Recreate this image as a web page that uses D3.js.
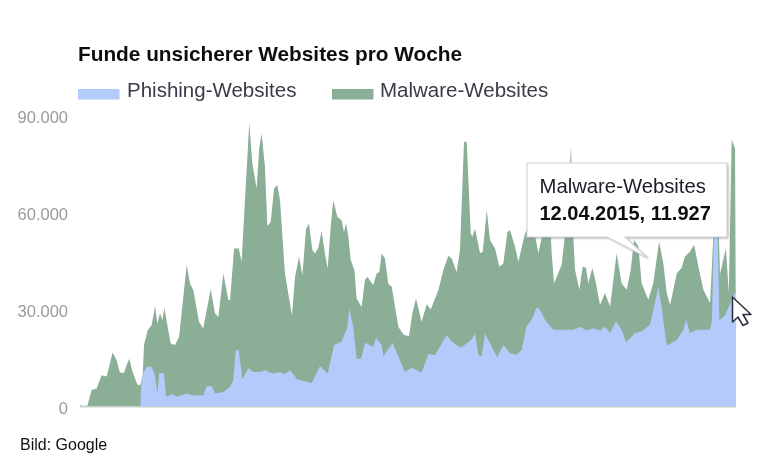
<!DOCTYPE html>
<html><head><meta charset="utf-8">
<script src="https://cdn.jsdelivr.net/npm/d3@7"></script>
<style>html,body{margin:0;padding:0;background:#fff}svg{display:block;font-family:"Liberation Sans",Arial,sans-serif}</style>
</head><body><svg id="c" width="777" height="464"></svg>
<script>
const chartTitle="Funde unsicherer Websites pro Woche";
const seriesNames=["Phishing-Websites","Malware-Websites"];
const seriesColors=["#b2cbfb","#8aae96"];
const tickValues=[0,30,60,90];
const tooltipLines=["Malware-Websites","12.04.2015, 11.927"];
const credit="Bild: Google";
// week index / value in thousands
const malwareWeeks=[0,2,4.6,7.3,10.4,13.5,16.7,20.4,22.9,25,27.5,29.2,30.8,32.9,35.8,37.5,39.2,40,42.3,44.8,46.9,48.3,50,51.5,52.7,54.8,56.7,59.4,61.9,66.7,68.8,70.8,74.4,77,81.7,84.4,86.5,89.6,92.7,93.8,96.3,99.2,101,103.1,105.8,107.7,110.4,112,113.5,115.6,117.1,119.2,121.3,123.3,125,128.1,130.2,132.5,134.4,136.9,139,141.3,143.1,145.2,146.9,149,151,153.1,154.8,156.7,158.3,160.8,163.5,165,166.3,167.7,169.2,171.5,172.9,176,178.1,179.6,183.3,185.4,187.1,188.5,190.6,192.7,194.8,199,202.5,205.6,207.7,210,213.5,216.7,219.2,224,227.1,230.2,232.3,235.4,237.5,240,241.7,244.2,245.2,246.9,250,251.7,254.2,256.3,259.4,262.1,264.6,267.1,268.8,271.9,274,278.1,281,284,286.5,288.5,291,294,294.8,296.3,301,304.2,306.9,308.3,309.4,312.1,314.2,316.3,317.7,320.2,322.5,325,328.1,331.3,335.4,338.5,341.7,344.2,346.3,349,351,355.2,358.3,361.9,364.6,366.7,368.8,373,376,378.1,381.3,383.8,386.5,389.6,393.8,395,396.5,399,400,403.7,405.5,407.3,409.4,409.8,410];
const malwareValues=[0.4,0.2,0.2,5.1,5.6,9.7,9.3,16.7,14.3,10.4,10.4,12.8,14.8,10.7,6.8,6.6,9.2,19,23.6,25.2,31,25.7,28.8,26.7,30.6,24.6,19.5,19,21.5,43.7,38,36,26.2,24.1,36.3,28.8,27.7,41.1,32.9,32.9,48.9,48.9,44.7,63.8,87.7,75.2,67.4,79.8,84.4,74.1,55.8,57.1,67.4,68.5,63.8,41.1,34.9,28.2,40.1,46.3,40.6,55,56.6,48.4,47.3,49.2,54.3,47.3,42.7,55.6,63.8,58.7,57.6,54,56.6,52.5,45.3,42.2,33.4,30.8,39.1,40.1,37.5,41.1,41.6,47.3,45.8,38,37,24.6,22.1,21.8,28.8,33.4,26.2,31.6,30,36,42.2,46.6,45.8,41.6,48.4,81.9,81.9,53.5,52.5,55,47.5,47.8,60.7,51.4,48.9,43.2,44.2,54,54.5,49.4,44.7,53.6,56,54,47.4,52,58,56,47.4,38.1,43.8,57.7,80.4,52.6,42.3,36.1,43.3,42.8,38.1,42.8,38.1,31.4,35.1,30.9,47.4,38.1,36.1,42.3,51.5,49.5,38.1,33,38.1,51,44.3,35.1,31.4,41.2,42.8,46.4,47.9,50,43.3,36.1,32,44,60,58,41,49,35,82.5,79.9,36,36];
const phishingWeeks=[37.7,38.5,41.7,44.8,46.9,48.3,49.6,52.5,53.8,56.3,58.3,60.4,63.5,66.7,70.8,77,79.2,82.3,84.4,89.6,93.8,95.8,97.3,99.2,101.5,105.2,108.3,112.5,115.6,120.8,125,128.1,131.3,135.8,139.6,144.8,150,154.8,158.8,163.5,167.1,168.3,170.8,172.9,175.6,178.3,183.3,185,188.5,189.6,195.4,199,203.1,207.3,213.5,217.7,221.9,229.2,232.3,238.1,244.8,246.9,249,251,253.1,257.3,260.8,264.6,268.8,273,276,279,282.3,285.4,287.5,290.6,295.8,302,308.3,312.5,316.7,320.8,325,328.1,331.3,335,338.5,341.3,346.9,351,356.3,358.8,361.5,363.5,365.6,366.7,373,377.1,378.8,381.3,385.4,393.8,395,396.3,398.3,399.6,403,407.3,410];
const phishingValues=[0,9.2,12.3,12.3,9.7,4,10.4,10.2,3,3.5,3.8,3,3.5,4,3.4,3.5,6.3,6.3,4,4.5,6.1,8.1,17.4,17.4,8.4,11.8,10.7,10.7,11.2,10.2,10.7,10,11.2,8.4,7.9,7.3,12.5,10.2,19,20,24.6,30.3,24.6,14.8,14.8,19.7,18.5,21.2,19,15.6,19.7,15.4,10.7,12,10.4,16.2,15.9,22.1,20,18.2,20.7,22.6,15.9,15.4,22.6,18.5,15.2,19,16.5,16,17.5,24.7,26.8,30.7,29.9,26.8,23.7,23.7,23.7,24.7,23.5,24.2,23.5,24.7,22.7,26.3,23.7,19.8,22.7,23.2,25.3,30.9,37.1,30.9,22.7,18.8,20.6,23.7,26.8,22.7,23.7,23.7,26.8,56,60,26.8,28,33,36];

const svg=d3.select("#c");
const defs=svg.append("defs");
defs.append("filter").attr("id","soft").attr("x","-2%").attr("y","-2%").attr("width","104%").attr("height","104%")
  .append("feGaussianBlur").attr("stdDeviation",0.6);
defs.append("filter").attr("id","softText").attr("x","-5%").attr("y","-20%").attr("width","110%").attr("height","140%")
  .append("feGaussianBlur").attr("stdDeviation",0.3);
const shadow=defs.append("filter").attr("id","shadow").attr("x","-5%").attr("y","-5%").attr("width","110%").attr("height","110%");
shadow.append("feGaussianBlur").attr("stdDeviation",1.2);

const x=d3.scaleLinear().domain([0,410]).range([80,736]);
const y=d3.scaleLinear().domain([0,90]).range([406.5,115.5]);
const area=d3.area().x(d=>x(d[0])).y0(y(0)).y1(d=>y(d[1]));

svg.append("line").attr("x1",x(0)).attr("x2",x(410)).attr("y1",407.5).attr("y2",407.5).attr("stroke","#e6e6e6");
const marks=svg.append("g").attr("filter","url(#soft)");
marks.append("path").attr("d",area(d3.zip(malwareWeeks,malwareValues))).attr("fill",seriesColors[1]);
marks.append("path").attr("d",area(d3.zip(phishingWeeks,phishingValues))).attr("fill",seriesColors[0]);

const ax=svg.append("g").attr("transform","translate(68,1.5)").call(
  d3.axisLeft(y).tickValues(tickValues).tickSize(0).tickPadding(0)
    .tickFormat(d=>d===0?"0":d+".000"));
ax.select(".domain").remove();
ax.selectAll("text").attr("font-size",16.5).attr("font-family","Liberation Sans").attr("fill","#9a9a9a").attr("filter","url(#softText)");

svg.append("text").text(chartTitle).attr("x",78).attr("y",60.5).attr("font-size",20.8).attr("font-weight","bold").attr("fill","#111").attr("filter","url(#softText)");

const legend=[{sx:78,tx:127},{sx:332,tx:380}];
legend.forEach((l,i)=>{
  svg.append("rect").attr("x",l.sx).attr("y",89).attr("width",41.5).attr("height",10.5).attr("fill",seriesColors[i]);
  svg.append("text").text(seriesNames[i]).attr("x",l.tx).attr("y",97).attr("font-size",20.5).attr("fill","#3a3a48").attr("filter","url(#softText)");
});

const shape="M527,163H727V237H625L648,258L607,237H527Z";
svg.append("path").attr("d",shape).attr("transform","translate(1.5,1.5)").attr("fill","#666").attr("opacity",.5).attr("filter","url(#shadow)");
svg.append("path").attr("d",shape).attr("fill","#fff").attr("stroke","#d4d4d4").attr("stroke-width",1.2);
svg.append("text").text(tooltipLines[0]).attr("x",539.5).attr("y",193).attr("font-size",20.3).attr("fill","#1c1c28").attr("filter","url(#softText)");
svg.append("text").text(tooltipLines[1]).attr("x",539.5).attr("y",220).attr("font-size",20).attr("font-weight","bold").attr("fill","#111").attr("filter","url(#softText)");

svg.append("text").text(credit).attr("x",20).attr("y",450).attr("font-size",16).attr("fill","#111").attr("filter","url(#softText)");

svg.append("path").attr("d","M732.5,297V322L738,317L743,325.5L748,323L743,314.5L751,314.5Z")
  .attr("fill","#fff").attr("stroke","#2a2f40").attr("stroke-width",1.5).attr("stroke-linejoin","round");
</script></body></html>
